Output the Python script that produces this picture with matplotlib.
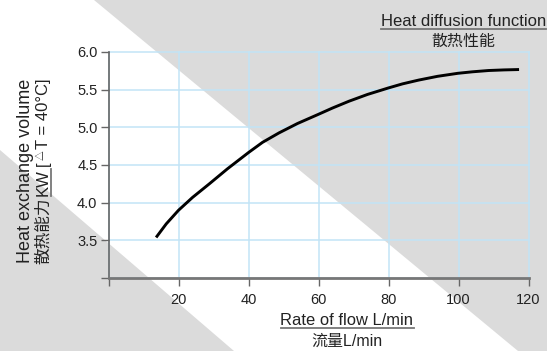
import matplotlib
matplotlib.use("Agg")
import matplotlib.pyplot as plt
from matplotlib.patches import Polygon
from matplotlib.lines import Line2D

# data
flow = [13.6, 16.5, 20.0, 24.0, 28.8, 34.0, 40.0, 44.0, 48.7, 54.0, 59.9, 64.0,
        68.7, 74.0, 79.9, 84.0, 88.6, 94.0, 99.8, 104.0, 108.6, 113.0, 117.3]
heat = [3.54, 3.72, 3.90, 4.07, 4.25, 4.45, 4.665, 4.80, 4.925, 5.05, 5.17, 5.255,
        5.345, 5.435, 5.52, 5.575, 5.625, 5.675, 5.715, 5.735, 5.752, 5.76, 5.765]
x_ticks = [0, 20, 40, 60, 80, 100, 120]
x_labels = ['', '20', '40', '60', '80', '100', '120']
y_ticks = [3.0, 3.5, 4.0, 4.5, 5.0, 5.5, 6.0]
y_labels = ['', '3.5', '4.0', '4.5', '5.0', '5.5', '6.0']

W, H = 547, 351
plt.rcParams['font.family'] = ['Liberation Sans', 'Noto Sans CJK SC', 'DejaVu Sans']
TXT = '#222222'
ULINE = '#777777'

fig = plt.figure(figsize=(W / 100, H / 100), dpi=100)
fig.patch.set_facecolor('white')


def fx(x, y):
    # image pixel (top-left origin) -> figure fraction
    return x / W, 1 - y / H


# diagonal grey background
gray = '#dbdbdb'
fig.add_artist(Polygon([fx(94, 0), fx(W, 0), fx(W, 375)], closed=True,
                       transform=fig.transFigure, facecolor=gray, edgecolor='none', zorder=0))
fig.add_artist(Polygon([fx(0, 150), fx(234, H), fx(0, H)], closed=True,
                       transform=fig.transFigure, facecolor=gray, edgecolor='none', zorder=0))

ax = fig.add_axes([108.5 / W, 1 - 278.2 / H, 420 / W, 226.4 / H])
ax.set_facecolor('none')
ax.set_xlim(0, 120)
ax.set_ylim(3.0, 6.0)
ax.set_xticks(x_ticks)
ax.set_xticklabels(x_labels)
ax.set_yticks(y_ticks)
ax.set_yticklabels(y_labels)
ax.grid(True, color='#c2e4f6', linewidth=1.1)
for g in ax.get_xgridlines() + ax.get_ygridlines():
    g.set_clip_on(False)
ax.set_axisbelow(True)

ax.spines['top'].set_visible(False)
ax.spines['right'].set_visible(False)
ax.spines['left'].set_color('#666666')
ax.spines['left'].set_linewidth(1.2)
ax.spines['bottom'].set_color('#777777')
ax.spines['bottom'].set_linewidth(2)
ax.tick_params(direction='out', length=6, width=1, color='#666666',
               labelsize=10.5, labelcolor=TXT, pad=2)
ax.tick_params(axis='x', pad=5)

ax.plot(flow, heat, color='black', linewidth=2.1, solid_capstyle='butt',
        solid_joinstyle='round', zorder=3)

# texts
title = fig.text(*fx(463.5, 26), 'Heat diffusion function', ha='center', va='baseline',
                 fontsize=12, color=TXT)
fig.text(*fx(463.5, 41), '散热性能', ha='center', va='center', fontsize=11.5, color=TXT)

xlab = fig.text(*fx(347, 325), 'Rate of flow L/min', ha='center', va='baseline',
                fontsize=11.9, color=TXT)
fig.text(*fx(347, 341.5), '流量L/min', ha='center', va='center', fontsize=11.5, color=TXT)

fig.text(*fx(25.5, 171), 'Heat exchange volume', rotation=90, ha='center', va='center',
         fontsize=13, color=TXT)

fig.canvas.draw()
renderer = fig.canvas.get_renderer()


def underline(t, gap=3):
    bb = t.get_window_extent(renderer)
    y = t.get_transform().transform(t.get_position())[1] - gap
    fig.add_artist(Line2D([bb.x0 / W, bb.x1 / W], [y / H, y / H], color=ULINE,
                          linewidth=1.3, transform=fig.transFigure))


def text_len(s, size):
    t = fig.text(0, 0, s, fontsize=size)
    w = t.get_window_extent(renderer).width
    t.remove()
    return w


underline(title)
underline(xlab)

# second y label line, built in pieces so the triangle can be small
size2 = 12
x_base = 48
y0 = H - 264
pieces = [('散热能力', size2, 0, 2), ('KW', size2, 0, 3), ('[', size2, 0, 1),
          ('△', 7, 4, 1.5), ('T = 40°C]', size2, 0, 0)]
y = y0
kw = None
for s, sz, dx, gap in pieces:
    fig.text((x_base - dx) / W, y / H, s, rotation=90, rotation_mode='anchor',
             ha='left', va='baseline', fontsize=sz, color=TXT)
    w = text_len(s, sz)
    if s == 'KW':
        kw = (y, y + w)
    y += w + gap
fig.add_artist(Line2D([(x_base + 2.5) / W] * 2, [kw[0] / H, kw[1] / H], color=ULINE,
                      linewidth=1.3, transform=fig.transFigure))

plt.savefig('out.png', dpi=100)
plt.close(fig)
